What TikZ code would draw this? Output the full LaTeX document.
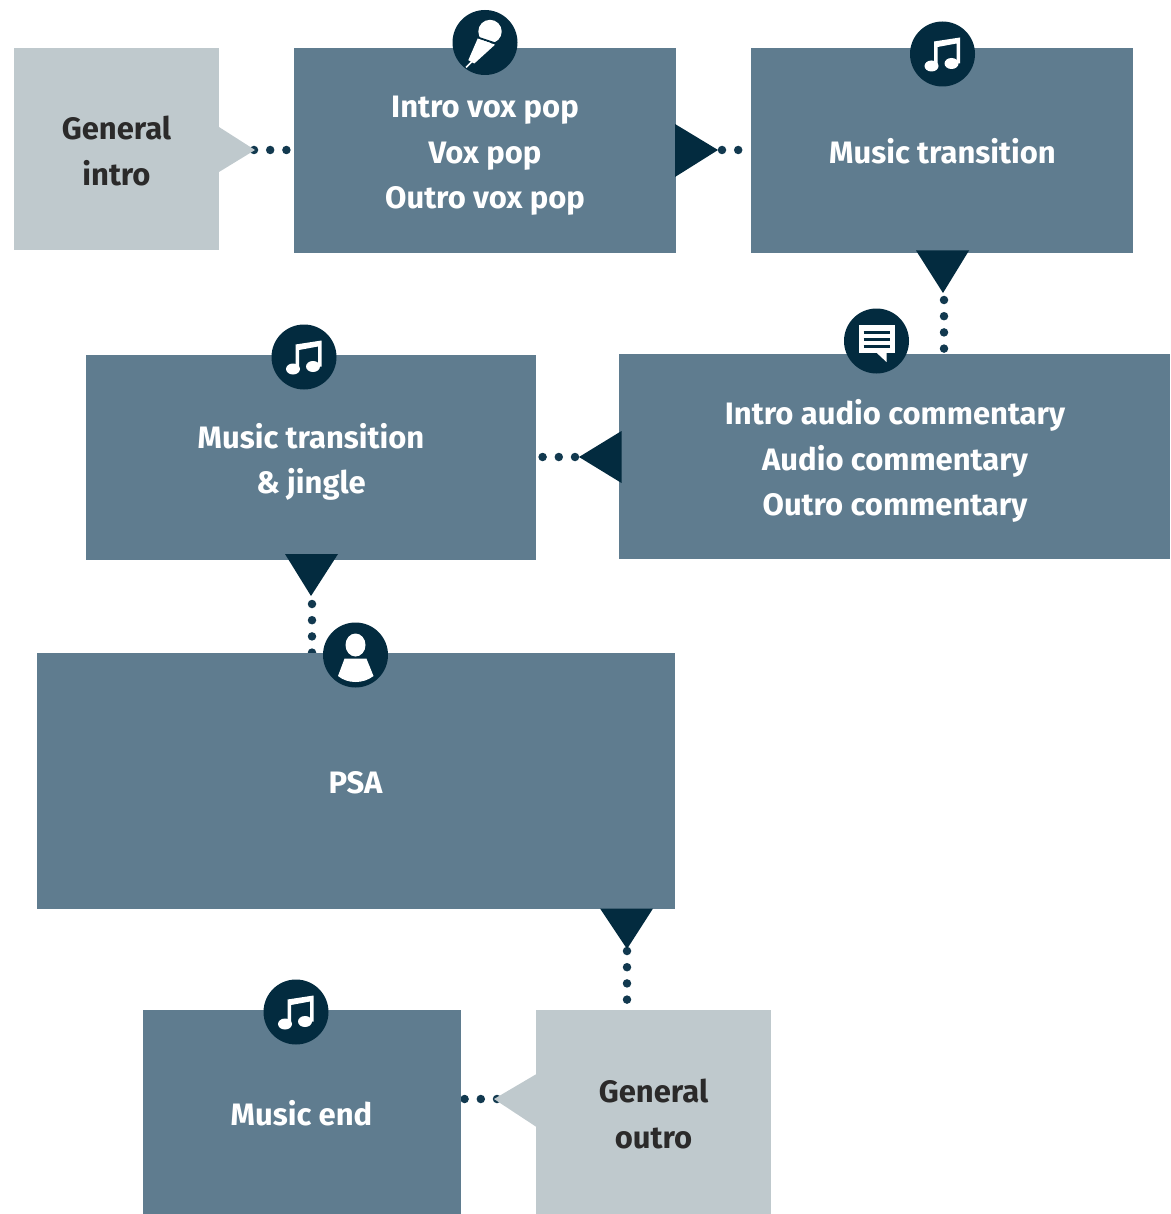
\documentclass[tikz,border=0pt]{standalone}
\usepackage{fontspec}
\setmainfont{Fira Sans}
\usetikzlibrary{backgrounds}
\definecolor{boxblue}{HTML}{5F7C8F}
\definecolor{boxgrey}{HTML}{BFC9CD}
\definecolor{navy}{HTML}{032B3F}
\definecolor{dotnavy}{HTML}{12394F}
\definecolor{inkgrey}{HTML}{2B2A2A}
\tikzset{
  segment/.style={rectangle,fill=boxblue,inner sep=0pt,outer sep=0pt},
  generic/.style={segment,fill=boxgrey},
  segtext/.style={text=white,inner sep=0pt,align=center,
    font=\fontsize{31}{45.3}\selectfont\bfseries},
  gentext/.style={segtext,text=inkgrey},
  badge/.style={circle,fill=navy,minimum size=65pt,inner sep=0pt,outer sep=0pt},
  dots/.style={dotnavy,line width=8.5pt,line cap=round,dash pattern=on 0pt off 16.2pt},
}
% badges, drawn around their centre
\newcommand{\musicbadge}[2]{
  \node[badge] (#1) at (#2) {};
  \begin{scope}[shift={(#2)},white]
    \fill (-11,12) ellipse (7 and 5.5);
    \fill (9,9.5) ellipse (7 and 5.5);
    \fill (-8.5,12) -- (-8.5,-12.5) -- (17.5,-16.5) -- (17.5,9.5) -- (14,9.5) -- (14,-10.5) -- (-5,-7) -- (-5,12) -- cycle;
  \end{scope}
}
\newcommand{\micbadge}[2]{
  \node[badge] (#1) at (#2) {};
  \begin{scope}[shift={(#2)},white]
    \fill (5,-11) circle (11.7);
    \draw[navy,line width=2pt] (-9,-5.5) -- (12,1.5);
    \fill (-7.3,-4) -- (10,2.2) -- (-10.7,21) -- (-16.7,17.7) -- cycle;
    \draw[line width=1.5pt] (-13,19) -- (-19,25);
  \end{scope}
}
\newcommand{\notebadge}[2]{
  \node[badge] (#1) at (#2) {};
  \begin{scope}[shift={(#2)},white]
    \fill (-18,-16) rectangle (18,12);
    \fill (0.3,12) -- (10,21) -- (10,12) -- cycle;
    \foreach \liney in {-9,-2,5}
      \draw[navy,line width=3pt] (-13,\liney) -- (13,\liney);
  \end{scope}
}
\newcommand{\personbadge}[2]{
  \node[badge] (#1) at (#2) {};
  \begin{scope}[shift={(#2)},white]
    \fill (0,-10) ellipse (10 and 11.5);
    \fill (-11,3.7) -- (11,3.7) -- (18,21) .. controls (8,29) and (-8,29) .. (-17.5,21) -- cycle;
  \end{scope}
}
\begin{document}
\begin{tikzpicture}[x=1pt,y=-1pt]
\useasboundingbox (0,0) rectangle (1170,1214);
    \node[generic,minimum width=205pt,minimum height=202pt] (introbox) at (116.5,149) {};
    \node[segment,minimum width=382pt,minimum height=205pt] (voxbox) at (485,150.5) {};
    \node[segment,minimum width=382pt,minimum height=205pt] (transbox) at (942,150.5) {};
    \node[segment,minimum width=551pt,minimum height=205pt] (commentbox) at (894.5,456.5) {};
    \node[segment,minimum width=450pt,minimum height=205pt] (jinglebox) at (311,457.5) {};
    \node[segment,minimum width=638pt,minimum height=256pt] (psabox) at (356,781) {};
    \node[generic,minimum width=235pt,minimum height=204pt] (outrobox) at (653.5,1112) {};
    \node[segment,minimum width=318pt,minimum height=204pt] (endbox) at (302,1112) {};
    % texts
    \node[gentext] (introtext) at (116.5,151) {General\\intro};
    \node[segtext] (voxtext) at (485,156) {Intro vox pop\\Vox pop\\Outro vox pop};
    \node[segtext] (transtext) at (942.5,151) {Music transition};
    \node[segtext] (commenttext) at (895,461) {Intro audio commentary\\Audio commentary\\Outro commentary};
    \node[segtext] (jingletext) at (311,462) {Music transition\\\& jingle};
    \node[segtext] (psatext) at (355.5,783) {PSA};
    \node[gentext] (outrotext) at (653.5,1114) {General\\outro};
    \node[segtext] (endtext) at (301.5,1113.5) {Music end};
    % arrow tips
    \coordinate (introtip) at (254,150);
    \coordinate (voxtip) at (722,150);
    \coordinate (transtip) at (944,300);
    \coordinate (commenttip) at (575,457);
    \coordinate (jingletip) at (312,604);
    \coordinate (psatip) at (627,951);
    \coordinate (outrotip) at (497,1099);
    \begin{scope}[on background layer]
    \draw[dots] (introtip) -- (introtip -| voxbox.west);
    \draw[dots] (voxtip) -- (voxtip -| transbox.west);
    \draw[dots] (transtip) -- (transtip |- commentbox.north);
    \draw[dots] (commenttip) -- (commenttip -| jinglebox.east);
    \draw[dots] (jingletip) -- (jingletip |- psabox.north);
    \draw[dots] (psatip) -- (psatip |- outrobox.north);
    \draw[dots] (outrotip) -- (outrotip -| endbox.east);
    \end{scope}
    \fill[boxgrey] (219,127) -- (255,150) -- (219,172) -- cycle;
    \fill[boxgrey] (536.5,1074) -- (494,1099) -- (536.5,1127) -- cycle;
    \fill[navy] (675,124) -- (718,150) -- (675,177) -- cycle;
    \fill[navy] (916,250.5) -- (969,250.5) -- (943,293) -- cycle;
    \fill[navy] (621.5,431) -- (621.5,483) -- (579,457) -- cycle;
    \fill[navy] (285,554) -- (338,554) -- (311,596) -- cycle;
    \fill[navy] (600,908.5) -- (653,908.5) -- (627,949) -- cycle;
    \micbadge{micicon}{485,42.5}
    \musicbadge{transicon}{942.5,54}
    \notebadge{commenticon}{876.5,341}
    \musicbadge{jingleicon}{304,357}
    \personbadge{psaicon}{355.5,655}
    \musicbadge{endicon}{296,1012}
\end{tikzpicture}
\end{document}
